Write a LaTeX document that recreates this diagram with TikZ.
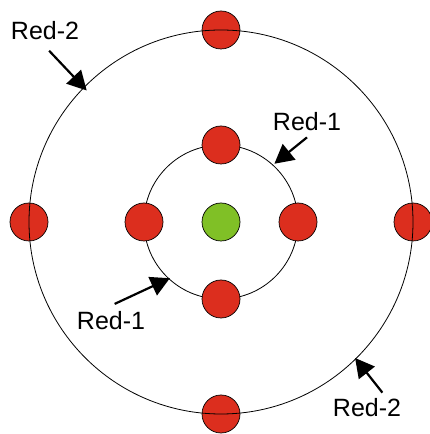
\documentclass[tikz,border=0pt]{standalone}
\usepackage{xcolor}
\usepackage{fontspec}
\setmainfont{Liberation Sans}
\usepackage{tikz}
\usetikzlibrary{shapes,arrows,positioning,calc, arrows.meta}

\definecolor{dotred}{RGB}{220,46,30}
\definecolor{dotgreen}{RGB}{128,192,38}

\tikzset{
    reddot/.style={circle, draw=black, line width=0.7pt, fill=dotred, minimum size=38pt, inner sep=0pt},
    greendot/.style={reddot, fill=dotgreen},
    ring/.style={draw=black, line width=0.8pt},
    tag/.style={inner sep=6pt, font=\fontsize{25}{30}\selectfont},
    pointer/.style={-{Triangle[length=19pt, width=20pt]}, line width=2.2pt}
}

\begin{document}
\begin{tikzpicture}[x=1pt, y=1pt]
                \useasboundingbox (0, 0) rectangle (430, 434);
                \coordinate (c) at (221, 212);

                % inner ring sits under the dots
                \draw[ring] (c) circle (77);
                \node[greendot] (core) at (c) {};
                \foreach \a/\n in {90/t, 0/r, 270/b, 180/l} {
                    \node[reddot] (in\n) at ($(c)+(\a:77)$) {};
                    \node[reddot] (out\n) at ($(c)+(\a:192)$) {};
                }
                % outer ring is drawn over its dots
                \draw[ring] (c) circle (192);

                % labels
                \node[tag] (redtwoA) at (45, 403) {Red-2};
                \node[tag] (redoneA) at (307, 312) {Red-1};
                \node[tag] (redoneB) at (111, 113) {Red-1};
                \node[tag] (redtwoB) at (367, 26) {Red-2};

                \coordinate (tiptwoA) at ($(c)+(135.6:188)$);
                \coordinate (tiponeA) at ($(c)+(47.5:79)$);
                \coordinate (tiponeB) at ($(c)+(227.7:76)$);
                \coordinate (tiptwoB) at ($(c)+(-45.4:191)$);

                \draw[pointer, shorten <=6pt] (redtwoA.south) -- (tiptwoA);
                \draw[pointer] (redoneA.south) -- (tiponeA);
                \draw[pointer, shorten <=4pt] (redoneB.north) -- (tiponeB);
                \draw[pointer] (redtwoB.45) -- (tiptwoB);
            \end{tikzpicture}
\end{document}
